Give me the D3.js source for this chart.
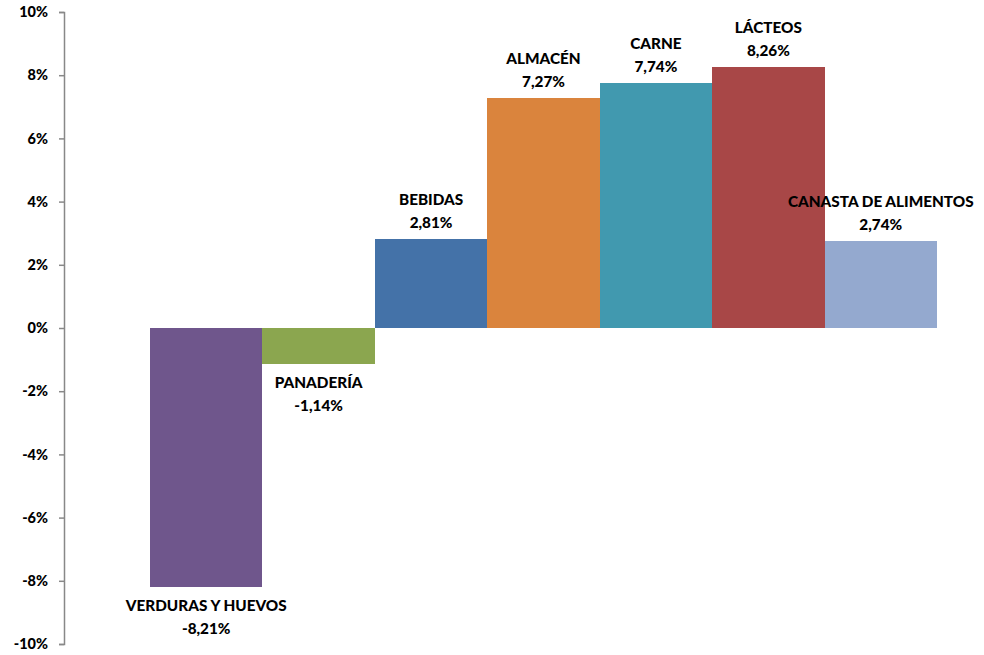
<!DOCTYPE html>
<html>
<head>
<meta charset="utf-8">
<script src="https://cdn.jsdelivr.net/npm/d3@7"></script>
<style>
  body { margin: 0; background: #fff; }
  text { font-family: "Lato", "Open Sans", sans-serif; font-weight: 900; }
</style>
</head>
<body>
<svg id="chart" width="984" height="655"></svg>
<script>
// datos del gráfico
const categories = ["VERDURAS Y HUEVOS", "PANADERÍA", "BEBIDAS", "ALMACÉN", "CARNE", "LÁCTEOS", "CANASTA DE ALIMENTOS"];
const values = [-8.21, -1.14, 2.81, 7.27, 7.74, 8.26, 2.74];
const colors = ["#6F568C", "#8BA64F", "#4472A8", "#DA843D", "#4199AF", "#A84747", "#94A9CF"];
const yTicks = [-10, -8, -6, -4, -2, 0, 2, 4, 6, 8, 10];

const svg = d3.select("#chart");

const x = d3.scaleBand()
    .domain(categories)
    .range([150, 937])
    .paddingInner(0)
    .paddingOuter(0);

const y = d3.scaleLinear()
    .domain([-10, 10])
    .range([644, 12]);

// eje Y
const yAxis = d3.axisLeft(y)
    .tickValues(yTicks)
    .tickSize(5)
    .tickPadding(11)
    .tickFormat(d => d + "%");

const gy = svg.append("g")
    .attr("transform", "translate(64,0)")
    .call(yAxis);
gy.select(".domain").attr("stroke", "#888").attr("stroke-width", 1.5);
gy.selectAll(".tick line").attr("stroke", "#888").attr("stroke-width", 1.5);
gy.selectAll(".tick text")
    .attr("fill", "#000")
    .style("font-size", "14.5px");

// barras
const data = categories.map((c, i) => ({ cat: c, val: values[i], color: colors[i] }));

svg.append("g").selectAll("rect")
    .data(data)
    .enter()
    .append("rect")
    .attr("x", d => x(d.cat))
    .attr("width", x.bandwidth())
    .attr("y", d => y(Math.max(0, d.val)))
    .attr("height", d => Math.abs(y(d.val) - y(0)))
    .attr("fill", d => d.color)
    .attr("shape-rendering", "crispEdges");

// etiquetas
const fmt = v => v.toFixed(2).replace(".", ",") + "%";
const labels = svg.append("g").selectAll("g")
    .data(data)
    .enter()
    .append("g")
    .attr("transform", d => `translate(${x(d.cat) + x.bandwidth() / 2},${y(d.val)})`);

labels.append("text")
    .attr("text-anchor", "middle")
    .attr("dy", d => d.val >= 0 ? -34 : 24)
    .style("font-size", "15.3px")
    .attr("fill", "#000")
    .text(d => d.cat);

labels.append("text")
    .attr("text-anchor", "middle")
    .attr("dy", d => d.val >= 0 ? -11 : 47)
    .style("font-size", "15.3px")
    .attr("fill", "#000")
    .text(d => fmt(d.val));
</script>
</body>
</html>
